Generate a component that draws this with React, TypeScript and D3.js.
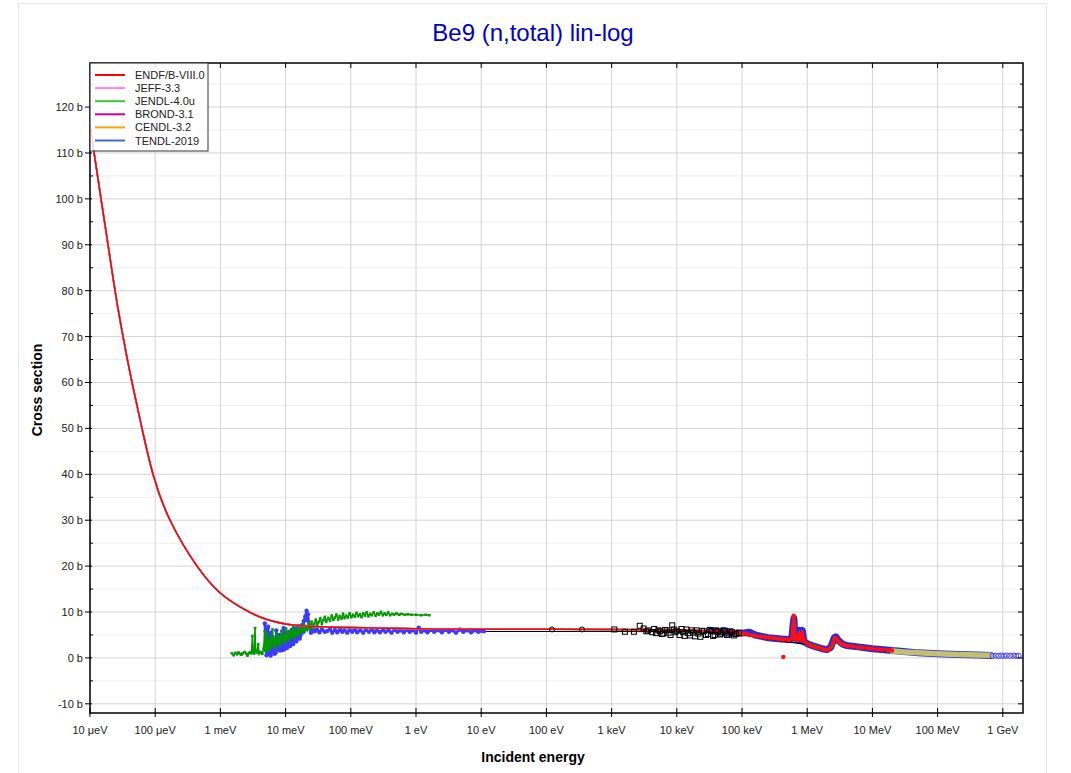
import React from 'react';
import * as d3 from 'd3';

type P = [number, number];

const libraryNames = ['ENDF/B-VIII.0', 'JEFF-3.3', 'JENDL-4.0u', 'BROND-3.1', 'CENDL-3.2', 'TENDL-2019'];
const libraryColors = ['#ff0000', '#ff80ff', '#33cc33', '#cc0099', '#ffa500', '#4169e1'];

const xTickValues = [1e-5, 1e-4, 1e-3, 1e-2, 1e-1, 1, 10, 100, 1e3, 1e4, 1e5, 1e6, 1e7, 1e8, 1e9];
const xTickLabels = ['10 μeV', '100 μeV', '1 meV', '10 meV', '100 meV', '1 eV', '10 eV', '100 eV', '1 keV', '10 keV', '100 keV', '1 MeV', '10 MeV', '100 MeV', '1 GeV'];
const yTickValues = [-10, 0, 10, 20, 30, 40, 50, 60, 70, 80, 90, 100, 110, 120];
const yMinorValues = [-5, 5, 15, 25, 35, 45, 55, 65, 75, 85, 95, 105, 115, 125];

// Evaluated library curve (all libraries coincide visually; ENDF drawn on top)
const endfCurve: P[] = [
  [1e-5, 116], [1.2e-5, 108.5], [1.475e-5, 100], [1.89e-5, 90], [2.42e-5, 80], [3.21e-5, 70],
  [4.41e-5, 60], [6.27e-5, 50], [9.25e-5, 40], [1.69e-4, 30], [4.38e-4, 20], [9.86e-4, 14.2],
  [2.0e-3, 11.1], [4.05e-3, 8.9], [1.05e-2, 7.35], [3.37e-2, 6.8], [0.1, 6.6], [1, 6.35], [10, 6.25],
  [1e3, 6.2], [1e4, 6.1], [3e4, 5.9], [6e4, 5.6],
  [1e5, 5.3], [1.5e5, 4.9], [2e5, 4.6], [3e5, 4.3], [4.5e5, 4.0], [5.8e5, 3.9], [6.2e5, 8.8],
  [6.6e5, 4.2], [7.2e5, 3.8], [7.6e5, 5.6], [8e5, 3.8], [8.4e5, 5.8], [8.8e5, 3.5], [1e6, 3.0],
  [1.3e6, 2.4], [1.7e6, 2.0], [2e6, 1.7], [2.3e6, 2.3], [2.65e6, 4.5], [2.9e6, 4.0], [3.3e6, 3.2],
  [4e6, 2.7], [6e6, 2.3], [1e7, 2.0], [1.5e7, 1.7], [2e7, 1.5],
];

// EXFOR: green low-energy set
const greenLow: P[] = [
  [1.5e-3, 1.0], [1.6e-3, 0.6], [1.7e-3, 1.1], [1.8e-3, 0.8], [1.9e-3, 1.2], [2.0e-3, 0.9], [2.1e-3, 0.7],
  [2.2e-3, 1.0], [2.35e-3, 1.3], [2.5e-3, 0.9], [2.6e-3, 0.5], [2.75e-3, 1.1], [2.9e-3, 1.2], [3.0e-3, 1.0],
  [3.1e-3, 4.8], [3.15e-3, 1.3], [3.3e-3, 1.0], [3.4e-3, 6.5], [3.45e-3, 1.5], [3.6e-3, 1.2], [3.8e-3, 3.0],
  [3.9e-3, 1.0], [4.0e-3, 1.3], [4.2e-3, 1.2], [4.4e-3, 0.9], [4.6e-3, 2.0], [4.8e-3, 5.8], [4.9e-3, 1.5],
  [5.1e-3, 2.5], [5.2e-3, 5.2], [5.3e-3, 1.6], [5.5e-3, 3.8], [5.7e-3, 1.9], [5.9e-3, 4.6], [6.1e-3, 2.4],
  [6.3e-3, 6.2], [6.5e-3, 2.9], [6.8e-3, 4.1], [7.0e-3, 2.2], [7.3e-3, 5.3], [7.6e-3, 3.1], [7.9e-3, 4.4],
  [8.2e-3, 2.7], [8.6e-3, 5.9], [9.0e-3, 3.6], [9.4e-3, 4.9], [9.8e-3, 3.3], [1.02e-2, 6.4], [1.06e-2, 4.1],
  [1.1e-2, 5.4], [1.15e-2, 3.9], [1.2e-2, 6.0], [1.25e-2, 4.6], [1.3e-2, 6.7], [1.36e-2, 4.4], [1.42e-2, 5.9],
  [1.48e-2, 5.0], [1.55e-2, 7.1], [1.62e-2, 5.2], [1.7e-2, 6.4], [1.78e-2, 5.6], [1.86e-2, 7.3], [1.95e-2, 5.8],
  [2.05e-2, 6.9], [2.15e-2, 6.1], [2.25e-2, 7.6], [2.35e-2, 6.4], [2.5e-2, 7.9], [2.62e-2, 6.6], [2.75e-2, 7.4],
  [2.9e-2, 8.3], [3.05e-2, 7.0], [3.2e-2, 7.8], [3.4e-2, 8.6], [3.6e-2, 7.4], [3.8e-2, 8.2], [4.0e-2, 8.9],
  [4.2e-2, 7.9], [4.5e-2, 8.7], [4.8e-2, 8.1], [5.1e-2, 9.2], [5.4e-2, 8.3], [5.7e-2, 8.8], [6.0e-2, 9.4],
  [6.4e-2, 8.4], [6.8e-2, 9.1], [7.2e-2, 8.6], [7.6e-2, 9.6], [8.0e-2, 8.7], [8.5e-2, 9.2], [9.0e-2, 8.8],
  [9.6e-2, 9.7], [0.102, 8.9], [0.108, 9.4], [0.115, 9.0], [0.122, 9.8], [0.13, 9.1], [0.138, 9.5],
  [0.146, 8.9], [0.155, 9.7], [0.165, 9.2], [0.175, 9.9], [0.186, 9.1], [0.198, 9.6], [0.21, 9.3],
  [0.225, 9.9], [0.24, 9.2], [0.255, 9.7], [0.27, 9.4], [0.29, 10.0], [0.31, 9.3], [0.33, 9.7], [0.35, 9.4],
  [0.375, 9.9], [0.4, 9.3], [0.43, 9.6], [0.46, 9.4], [0.5, 9.7], [0.55, 9.4], [0.6, 9.6], [0.67, 9.4],
  [0.75, 9.5], [0.85, 9.4], [1.0, 9.4], [1.2, 9.3], [1.4, 9.4], [1.6, 9.3],
];

// EXFOR: blue low-energy set
const blueLow: P[] = [
  [4.8e-3, 7.5], [4.9e-3, 2.0], [5.0e-3, 4.5], [5.1e-3, 0.6], [5.2e-3, 6.2], [5.3e-3, 1.0], [5.4e-3, 6.8],
  [5.5e-3, 2.2], [5.6e-3, 5.0], [5.7e-3, 0.8], [5.8e-3, 3.4], [5.9e-3, 0.5], [6.0e-3, 5.5], [6.15e-3, 1.2],
  [6.3e-3, 4.6], [6.45e-3, 1.5], [6.6e-3, 4.0], [6.75e-3, 0.9], [6.9e-3, 3.2], [7.05e-3, 1.1], [7.2e-3, 6.0],
  [7.4e-3, 1.8], [7.6e-3, 4.5], [7.8e-3, 2.5], [8.0e-3, 5.0], [8.2e-3, 1.6], [8.4e-3, 3.8], [8.6e-3, 2.0],
  [8.8e-3, 3.5], [9.0e-3, 1.7], [9.3e-3, 6.5], [9.6e-3, 2.6], [9.8e-3, 2.0], [1.0e-2, 5.2], [1.03e-2, 4.2],
  [1.06e-2, 2.2], [1.08e-2, 2.8], [1.11e-2, 5.6], [1.14e-2, 5.0], [1.17e-2, 2.6], [1.2e-2, 3.2],
  [1.24e-2, 6.1], [1.27e-2, 5.8], [1.3e-2, 3.0], [1.34e-2, 3.8], [1.38e-2, 6.4], [1.42e-2, 6.0],
  [1.46e-2, 3.6], [1.5e-2, 4.5], [1.55e-2, 6.9], [1.6e-2, 6.8], [1.65e-2, 4.2], [1.7e-2, 5.0],
  [1.75e-2, 6.4], [1.8e-2, 7.2], [1.85e-2, 5.6], [1.9e-2, 8.0], [2.0e-2, 9.0], [2.1e-2, 10.3], [2.15e-2, 8.2],
  [2.2e-2, 9.5], [2.3e-2, 7.0], [2.45e-2, 5.5], [2.6e-2, 6.5], [2.8e-2, 5.8], [3.0e-2, 6.3], [3.3e-2, 5.6],
  [3.6e-2, 6.2], [4e-2, 5.7], [4.4e-2, 5.9], [4.8e-2, 6.3], [5.2e-2, 5.5], [5.7e-2, 6.1], [6.2e-2, 5.6],
  [6.8e-2, 6.2], [7.4e-2, 5.7], [8e-2, 6.0], [8.8e-2, 5.5], [9.6e-2, 6.1], [0.105, 5.7], [0.115, 6.2],
  [0.125, 5.6], [0.14, 6.0], [0.155, 5.5], [0.17, 6.1], [0.19, 5.7], [0.21, 6.2], [0.23, 5.6], [0.25, 6.0],
  [0.28, 5.6], [0.31, 6.1], [0.34, 5.7], [0.38, 6.0], [0.42, 5.5], [0.47, 6.1], [0.52, 5.7], [0.58, 6.0],
  [0.65, 5.6], [0.72, 6.1], [0.8, 5.7], [0.9, 6.0], [1.0, 5.5], [1.1, 6.6], [1.2, 5.7], [1.35, 6.0],
  [1.5, 5.6], [1.7, 6.1], [1.9, 5.7], [2.2, 6.0], [2.5, 5.6], [2.8, 6.1], [3.2, 5.7], [3.6, 6.0], [4.1, 5.5],
  [4.7, 6.2], [5.3, 5.7], [6, 6.0], [7, 5.6], [8, 6.0], [9, 5.7], [10, 5.9], [11, 5.8],
];

// EXFOR: black line
const blackLine: P[] = [
  [11, 5.75], [1e3, 5.75], [1e4, 5.7], [3e4, 5.6], [1e5, 5.0], [3e5, 4.0], [1e6, 2.9], [2e6, 1.6],
  [2.7e6, 3.8], [4e6, 2.4], [1e7, 1.8], [2e7, 1.3],
];
// EXFOR: black open circles and squares
const blackCircles: P[] = [[122, 6.2], [352, 6.2]];
const blackSquares: P[] = [
  [1.1e3, 6.2], [1.6e3, 5.7], [2.2e3, 5.7], [2.7e3, 7.0], [3.1e3, 6.4], [3.4e3, 5.8], [3.6e3, 6.0],
  [4.2e3, 5.6], [4.5e3, 6.3], [4.8e3, 5.4], [5.2e3, 6.0], [5.5e3, 5.8], [5.9e3, 5.2], [6.2e3, 5.3],
  [6.6e3, 6.1], [7e3, 6.0], [7.5e3, 5.5], [8e3, 5.0], [8.5e3, 7.1], [9e3, 6.2], [9.5e3, 5.6], [1.0e4, 5.9],
  [1.1e4, 5.0], [1.18e4, 6.3], [1.25e4, 5.6], [1.32e4, 4.8], [1.4e4, 6.2], [1.5e4, 5.4], [1.6e4, 4.9],
  [1.7e4, 6.0], [1.8e4, 5.5], [1.9e4, 4.7], [2e4, 6.0], [2.15e4, 5.3], [2.3e4, 4.6], [2.45e4, 5.9],
  [2.6e4, 5.8], [2.8e4, 5.0], [3e4, 5.2], [3.2e4, 6.1], [3.4e4, 5.9], [3.6e4, 4.8], [3.8e4, 5.0],
  [4.0e4, 6.0], [4.3e4, 5.7], [4.6e4, 5.1], [4.8e4, 5.3], [5.2e4, 6.0], [5.5e4, 5.9], [5.9e4, 5.0],
  [6.2e4, 5.1], [6.6e4, 5.8], [7e4, 5.6], [7.5e4, 4.9], [8e4, 5.2], [9e4, 5.5],
];

// EXFOR: high-energy sets
const blueHigh: P[] = [
  [3e4, 5.9], [5e4, 5.7], [7e4, 5.4], [1e5, 5.4], [1.3e5, 5.6], [1.6e5, 5.0], [2e5, 4.7], [2.5e5, 4.4],
  [3e5, 4.3], [4e5, 4.1], [5e5, 4.0], [5.8e5, 4.2], [6.1e5, 7.5], [6.25e5, 8.6], [6.4e5, 6.0], [6.6e5, 4.3],
  [7.2e5, 4.0], [7.6e5, 6.0], [8e5, 4.0], [8.4e5, 6.0], [8.9e5, 3.6], [1e6, 3.1], [1.3e6, 2.5], [1.7e6, 2.0],
  [2e6, 1.8], [2.3e6, 2.3], [2.6e6, 4.4], [2.75e6, 4.6], [3e6, 3.8], [3.5e6, 3.0], [4e6, 2.7], [6e6, 2.4],
  [1e7, 2.0], [1.5e7, 1.8], [2e7, 1.6], [3e7, 1.4], [5e7, 1.1], [1e8, 0.9], [2e8, 0.72], [4e8, 0.62], [7e8, 0.55],
];
const redHigh: P[] = [
  [4e4, 5.8], [5e4, 5.6], [6e4, 5.5], [7e4, 5.7], [8e4, 5.3], [9e4, 5.5], [1e5, 5.2], [1.15e5, 5.3],
  [1.3e5, 5.0], [1.5e5, 4.9], [1.7e5, 4.7], [2e5, 4.6], [2.3e5, 4.5], [2.6e5, 4.4], [3e5, 4.3], [3.4e5, 4.2],
  [3.8e5, 4.1], [4.3e5, 0.2], [4.3e5, 4.0], [4.8e5, 4.0], [5.3e5, 3.9], [5.8e5, 4.2], [6.0e5, 6.5],
  [6.2e5, 9.2], [6.4e5, 7.0], [6.6e5, 4.3], [7e5, 3.9], [7.5e5, 5.0], [8e5, 4.0], [8.4e5, 5.5], [9e5, 3.6],
  [1e6, 3.1], [1.15e6, 2.7], [1.3e6, 2.4], [1.5e6, 2.2], [1.7e6, 2.0], [1.9e6, 1.8], [2.1e6, 1.8],
  [2.3e6, 2.3], [2.5e6, 3.3], [2.65e6, 4.4], [2.8e6, 4.2], [3e6, 3.6], [3.3e6, 3.1], [3.7e6, 2.8],
  [4.2e6, 2.6], [5e6, 2.5], [6e6, 2.3], [7e6, 2.2], [8.5e6, 2.1], [1e7, 2.0], [1.2e7, 1.9], [1.4e7, 1.8],
  [1.7e7, 1.7], [2e7, 1.6],
];
const greenHigh: P[] = [[1.1e6, 2.8], [1.3e6, 2.6], [1.5e6, 2.3], [2.2e6, 2.0], [2.4e6, 2.6]];
const oliveHigh: P[] = [
  [2e7, 1.5], [3e7, 1.3], [5e7, 1.1], [1e8, 0.9], [2e8, 0.75], [4e8, 0.65], [6.8e8, 0.6],
];
const blueCircles: P[] = [
  [7e8, 0.45], [7.8e8, 0.5], [8.6e8, 0.45], [9.5e8, 0.5], [1.05e9, 0.45], [1.15e9, 0.5], [1.3e9, 0.45],
  [1.45e9, 0.5], [1.6e9, 0.45], [1.75e9, 0.45],
];

const W = 1071, H = 773;
const L = 90, R = 1023, T = 63, B = 713;

export default function App() {
  const x = d3.scaleLog().domain([1e-5, 2.04e9]).range([L, R]);
  const y = d3.scaleLinear().domain([-12, 129.6]).range([B, T]);
  const lin = d3.line<P>().x(d => x(d[0])).y(d => y(d[1]));
  const natural = d3.line<P>().x(d => x(d[0])).y(d => y(d[1])).curve(d3.curveNatural);
  const smooth = d3.line<P>().x(d => x(d[0])).y(d => y(d[1])).curve(d3.curveMonotoneX);
  const font = 'Liberation Sans, Arial, sans-serif';
  const libOrder = [5, 4, 3, 2, 1, 0];
  const endfLow = endfCurve.filter(d => d[0] <= 1e4);
  const endfHigh = endfCurve.filter(d => d[0] >= 1e4);
  const endfPath = (natural(endfLow) || '') + (smooth(endfHigh) || '');

  return (
    <svg width={W} height={H} style={{ position: 'absolute', left: 0, top: 0, background: '#fff' }}>
      <defs>
        <clipPath id="plot"><rect x={L} y={T} width={R - L} height={B - T} /></clipPath>
      </defs>
      <rect x={18.5} y={3.5} width={1028} height={790} fill="none" stroke="#e8e8e8" />
      <text x={533} y={41} textAnchor="middle" fontFamily={font} fontSize={24} fill="#0000cc">Be9 (n,total) lin-log</text>

      {/* grid */}
      <g>
        {yMinorValues.map(v => (
          <line key={'ym' + v} x1={L} x2={R} y1={y(v)} y2={y(v)} stroke="#eeeeee" strokeWidth={1} />
        ))}
        {yTickValues.map(v => (
          <line key={'yg' + v} x1={L} x2={R} y1={y(v)} y2={y(v)} stroke="#d4d4d4" strokeWidth={1} />
        ))}
        {xTickValues.map(v => (
          <line key={'xg' + v} x1={x(v)} x2={x(v)} y1={T} y2={B} stroke="#d4d4d4" strokeWidth={1} />
        ))}
      </g>

      <g clipPath="url(#plot)">
        {/* high-energy bands */}
        <path d={lin(blueHigh) || ''} fill="none" stroke="#2a2ae0" strokeWidth={7} strokeLinejoin="round" />
        <path d={lin(blackLine) || ''} fill="none" stroke="#000" strokeWidth={1.2} />
        <path d={lin(oliveHigh) || ''} fill="none" stroke="#c2c070" strokeWidth={5.5} strokeLinecap="round" />
        {blueCircles.map((d, i) => (
          <circle key={'bc' + i} cx={x(d[0])} cy={y(d[1])} r={2.6} fill="none" stroke="#4040ff" strokeWidth={1} />
        ))}
        {greenHigh.map((d, i) => (
          <circle key={'gh' + i} cx={x(d[0])} cy={y(d[1])} r={2} fill="#00a000" />
        ))}

        {/* low-energy EXFOR */}
        <path d={lin(blueLow) || ''} fill="none" stroke="#3b3bff" strokeWidth={2.5} strokeLinejoin="round" />
        {blueLow.map((d, i) => (
          <circle key={'bl' + i} cx={x(d[0])} cy={y(d[1])} r={2.2} fill="#3b3bff" />
        ))}
        <path d={lin(greenLow) || ''} fill="none" stroke="#009a00" strokeWidth={1.6} />
        {greenLow.map((d, i) => (
          <rect key={'gl' + i} x={x(d[0]) - 1.3} y={y(d[1]) - 1.3} width={2.6} height={2.6} fill="#009a00" />
        ))}

        {/* evaluated libraries */}
        {libOrder.map(i => (
          <path key={'lib' + i} d={endfPath} fill="none" stroke={libraryColors[i]} strokeWidth={1.5} />
        ))}

        {/* red high-energy EXFOR */}
        <path d={lin(redHigh.filter(d => d[1] > 1)) || ''} fill="none" stroke="#ff1010" strokeWidth={3} strokeLinejoin="round" />
        {redHigh.map((d, i) => (
          <circle key={'rh' + i} cx={x(d[0])} cy={y(d[1])} r={2.2} fill="#ff1010" />
        ))}

        {/* black markers */}
        {blackCircles.map((d, i) => (
          <circle key={'kc' + i} cx={x(d[0])} cy={y(d[1])} r={2.5} fill="none" stroke="#000" strokeWidth={1} />
        ))}
        {blackSquares.map((d, i) => (
          <rect key={'ks' + i} x={x(d[0]) - 2.5} y={y(d[1]) - 2.5} width={5} height={5} fill="none" stroke="#000" strokeWidth={1} />
        ))}
      </g>

      {/* frame and axes */}
      <rect x={L} y={T} width={R - L} height={B - T} fill="none" stroke="#000" strokeWidth={1.5} />
      {yTickValues.map(v => (
        <g key={'yt' + v}>
          <line x1={L - 5} x2={L + 2} y1={y(v)} y2={y(v)} stroke="#000" />
          <line x1={R - 5} x2={R} y1={y(v)} y2={y(v)} stroke="#000" />
          <text x={L - 7} y={y(v) + 4} textAnchor="end" fontFamily={font} fontSize={11} fill="#222">{v} b</text>
        </g>
      ))}
      {yMinorValues.map(v => (
        <g key={'ymt' + v}>
          <line x1={L} x2={L + 3} y1={y(v)} y2={y(v)} stroke="#000" />
          <line x1={R - 3} x2={R} y1={y(v)} y2={y(v)} stroke="#000" />
        </g>
      ))}
      {xTickValues.map((v, i) => (
        <g key={'xt' + v}>
          <line x1={x(v)} x2={x(v)} y1={B - 5} y2={B + 4} stroke="#000" />
          <line x1={x(v)} x2={x(v)} y1={T} y2={T + 5} stroke="#000" />
          <text x={x(v)} y={B + 21} textAnchor="middle" fontFamily={font} fontSize={11} fill="#222">{xTickLabels[i]}</text>
        </g>
      ))}

      <text x={533} y={762} textAnchor="middle" fontFamily={font} fontSize={14} fontWeight="bold" fill="#000">Incident energy</text>
      <text transform={`translate(42,390) rotate(-90)`} textAnchor="middle" fontFamily={font} fontSize={14} fontWeight="bold" fill="#000">Cross section</text>

      {/* legend */}
      <g>
        <rect x={L} y={T} width={118} height={88} fill="#fff" fillOpacity={0.85} stroke="#333" strokeWidth={1} />
        {libraryNames.map((n, i) => (
          <g key={'lg' + i}>
            <line x1={95} x2={125} y1={75 + i * 13.1} y2={75 + i * 13.1} stroke={libraryColors[i]} strokeWidth={2} />
            <text x={135} y={79 + i * 13.1} fontFamily={font} fontSize={11} fill="#222">{n}</text>
          </g>
        ))}
      </g>
    </svg>
  );
}
